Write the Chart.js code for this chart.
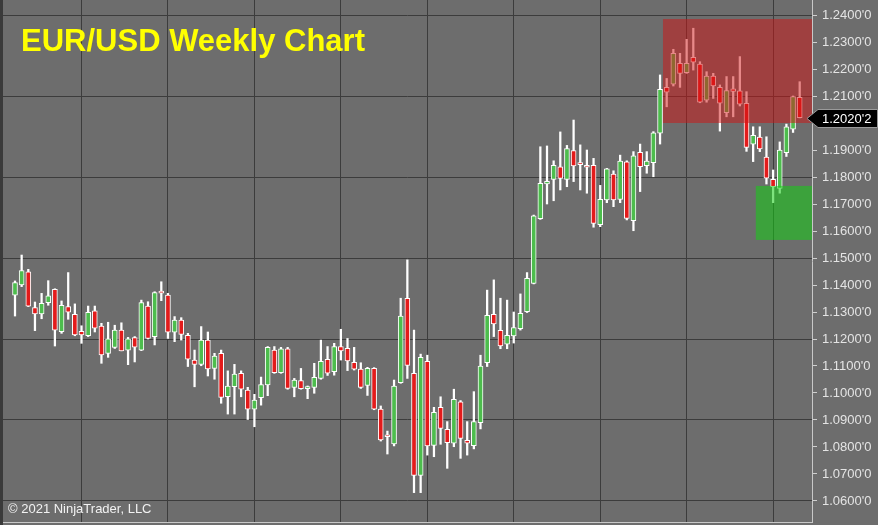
<!DOCTYPE html>
<html>
<head>
<meta charset="utf-8">
<script src="https://cdn.jsdelivr.net/npm/chart.js@4"></script>
<style>
  html, body { margin: 0; padding: 0; background: #6d6d6d; }
  #wrap { width: 878px; height: 525px; position: relative; }
</style>
</head>
<body>
<div id="wrap"><canvas id="c" width="878" height="525"></canvas></div>
<script>
// Weekly EUR/USD candles, week of 2019-01-21 .. week of 2021-04-26
const firstWeek = '2019-01-21';
const open = [
1.1362,1.1400,1.1449,1.1316,1.1293,1.1335,1.1384,1.1227,1.1320,1.1291,
1.1228,1.1212,1.1304,1.1248,1.1147,1.1169,1.1233,1.1159,1.1205,1.1159,
1.1322,1.1209,1.1372,1.1363,1.1225,1.1270,1.1214,1.1122,1.1106,1.1196,
1.1091,1.1147,1.0986,1.1023,1.1073,1.1011,1.0940,1.0983,1.1030,1.1159,
1.1075,1.1164,1.1021,1.1046,1.1016,1.1021,1.1054,1.1125,1.1079,1.1172,
1.1165,1.1114,1.1089,1.1028,1.1091,1.0940,1.0843,1.0811,1.1038,1.1351,
1.1073,1.0695,1.1117,1.0806,1.0947,1.0865,1.0814,1.0967,1.0825,1.0805,
1.0890,1.1112,1.1291,1.1232,1.1181,1.1211,1.1238,1.1301,1.1406,1.1646,
1.1774,1.1791,1.1838,1.1791,1.1898,1.1848,1.1838,1.1843,1.1623,1.1715,
1.1811,1.1717,1.1856,1.1638,1.1891,1.1842,1.1853,1.1962,1.2132,1.2144,
1.2221,1.2186,1.2243,1.2218,1.2085,1.2174,1.2132,1.2038,1.2127,1.2119,
1.2073,1.1922,1.1948,1.1874,1.1791,1.1758,1.1890,1.1977,1.2095];
const high = [
1.1415,1.1511,1.1458,1.1337,1.1369,1.1416,1.1386,1.1341,1.1446,1.1330,
1.1249,1.1322,1.1322,1.1258,1.1262,1.1251,1.1260,1.1206,1.1209,1.1344,
1.1338,1.1375,1.1412,1.1369,1.1283,1.1279,1.1221,1.1159,1.1246,1.1226,
1.1147,1.1159,1.1082,1.1106,1.1082,1.1021,1.0995,1.1059,1.1172,1.1172,
1.1169,1.1169,1.1054,1.1091,1.1026,1.1110,1.1196,1.1172,1.1184,1.1236,
1.1202,1.1169,1.1112,1.1095,1.1094,1.0952,1.0859,1.1048,1.1351,1.1493,
1.1233,1.1144,1.1140,1.0947,1.0986,1.0894,1.1014,1.0972,1.0894,1.1005,
1.1140,1.1381,1.1419,1.1351,1.1344,1.1300,1.1367,1.1446,1.1659,1.1912,
1.1915,1.1860,1.1967,1.1917,1.2011,1.1919,1.1900,1.1869,1.1769,1.1832,
1.1823,1.1881,1.1860,1.1894,1.1922,1.1894,1.1968,1.2178,1.2165,1.2273,
1.2258,1.2310,1.2351,1.2227,1.2190,1.2184,1.2141,1.2172,1.2172,1.2246,
1.2116,1.1986,1.1986,1.1949,1.1826,1.1930,1.1996,1.2100,1.2153];
const low = [
1.1285,1.1394,1.1320,1.1231,1.1275,1.1325,1.1174,1.1221,1.1273,1.1212,
1.1184,1.1209,1.1226,1.1110,1.1132,1.1165,1.1156,1.1105,1.1115,1.1157,
1.1200,1.1178,1.1342,1.1202,1.1190,1.1196,1.1098,1.1023,1.1101,1.1063,
1.1051,1.0962,1.0922,1.0922,1.0986,1.0902,1.0875,1.0955,1.0990,1.1073,
1.1073,1.1014,1.0986,1.1014,1.0979,1.0999,1.1051,1.1065,1.1066,1.1122,
1.1083,1.1085,1.1017,1.0991,1.0938,1.0822,1.0774,1.0804,1.1036,1.1054,
1.0631,1.0631,1.0770,1.0764,1.0810,1.0721,1.0801,1.0758,1.0770,1.0793,
1.0867,1.1098,1.1209,1.1164,1.1164,1.1185,1.1233,1.1298,1.1404,1.1643,
1.1700,1.1712,1.1752,1.1764,1.1783,1.1752,1.1740,1.1614,1.1616,1.1705,
1.1690,1.1705,1.1641,1.1601,1.1746,1.1814,1.1801,1.1922,1.2060,1.2137,
1.2132,1.2184,1.2196,1.2075,1.2077,1.2091,1.1970,1.2023,1.2023,1.2063,
1.1895,1.1857,1.1894,1.1774,1.1705,1.1740,1.1876,1.1965,1.2019];
const close = [
1.1409,1.1453,1.1322,1.1293,1.1332,1.1360,1.1233,1.1325,1.1299,1.1215,
1.1215,1.1299,1.1240,1.1141,1.1201,1.1233,1.1156,1.1201,1.1170,1.1335,
1.1202,1.1372,1.1370,1.1225,1.1270,1.1217,1.1125,1.1106,1.1196,1.1089,
1.1137,1.0984,1.1026,1.1070,1.1014,1.0940,1.0974,1.1031,1.1169,1.1075,
1.1164,1.1017,1.1048,1.1016,1.1017,1.1058,1.1117,1.1073,1.1172,1.1156,
1.1119,1.1088,1.1021,1.1091,1.0940,1.0826,1.0838,1.1026,1.1285,1.1102,
1.0695,1.1132,1.0804,1.0928,1.0869,1.0816,1.0977,1.0832,1.0814,1.0894,
1.1100,1.1288,1.1256,1.1174,1.1214,1.1242,1.1295,1.1425,1.1656,1.1777,
1.1784,1.1843,1.1795,1.1905,1.1841,1.1846,1.1836,1.1628,1.1717,1.1830,
1.1715,1.1859,1.1647,1.1878,1.1838,1.1859,1.1964,1.2125,1.2114,1.2258,
1.2184,1.2221,1.2225,1.2077,1.2174,1.2137,1.2073,1.2120,1.2117,1.2070,
1.1910,1.1954,1.1904,1.1796,1.1764,1.1900,1.1986,1.2098,1.20202];

// price-axis tick labels and quarterly grid weeks
const priceTicks = [1.06,1.07,1.08,1.09,1.10,1.11,1.12,1.13,1.14,1.15,1.16,1.17,1.18,1.19,1.20,1.21,1.22,1.23,1.24];
const quarterWeeks = [10,23,36,49,62,75,88,101,114];

// supply (red) and demand (green) zones: start week index, top price, bottom price
const zoneStart  = [97.44, 111.4];
const zoneTop    = [1.2385, 1.1767];
const zoneBottom = [1.2000, 1.1567];

const titleText = 'EUR/USD Weekly Chart';
const copyrightText = '\u00A9 2021 NinjaTrader, LLC';

// ---------- build ----------
const weeks = open.map((_, i) => {
  const d = new Date(firstWeek + 'T00:00:00Z');
  d.setUTCDate(d.getUTCDate() + 7 * i);
  return d.toISOString().slice(0, 10);
});
const RED = '#e31b1b', GREEN = '#4dbd4d';
const bodies = open.map((o, i) => ({x: i, y: [o, close[i]]}));
const wicks = open.map((o, i) => ({x: i, y: [low[i], high[i]]}));
const bodyColors = open.map((o, i) => close[i] >= o ? GREEN : RED);

const bgPlugin = {
  id: 'bg',
  beforeDraw(chart) {
    const c = chart.ctx;
    c.save();
    c.fillStyle = '#6d6d6d';
    c.fillRect(0, 0, chart.width, chart.height);
    c.fillStyle = '#3a3a3a';
    c.fillRect(0, 0, 3, chart.height);
    c.restore();
  }
};

const zonePlugin = {
  id: 'zones',
  afterDatasetsDraw(chart) {
    const c = chart.ctx, xs = chart.scales.x, ys = chart.scales.y, a = chart.chartArea;
    const fills = ['rgba(210,20,20,0.5)', 'rgba(20,205,20,0.55)'];
    c.save();
    zoneStart.forEach((s, k) => {
      const x0 = xs.getPixelForValue(s);
      const y0 = ys.getPixelForValue(zoneTop[k]);
      const y1 = ys.getPixelForValue(zoneBottom[k]);
      c.fillStyle = fills[k];
      c.fillRect(x0, y0, a.right - x0, y1 - y0);
    });
    c.restore();
  }
};

const textPlugin = {
  id: 'texts',
  afterDraw(chart) {
    const c = chart.ctx, ys = chart.scales.y, a = chart.chartArea;
    c.save();
    // title
    c.font = 'bold 31px "Liberation Sans", Arial, sans-serif';
    c.fillStyle = '#ffff00';
    c.textBaseline = 'alphabetic';
    c.textAlign = 'left';
    c.fillText(titleText, 21, 51);
    // copyright
    c.font = '13px "Liberation Sans", Arial, sans-serif';
    c.fillStyle = '#f2f2f2';
    c.fillText(copyrightText, 8, 513);
    // last price marker
    const last = close[close.length - 1];
    const y = Math.round(ys.getPixelForValue(last)) + 0.5;
    const xr = a.right;
    c.beginPath();
    c.moveTo(xr - 5, y);
    c.lineTo(xr + 6, y - 9);
    c.lineTo(877.5, y - 9);
    c.lineTo(877.5, y + 9);
    c.lineTo(xr + 6, y + 9);
    c.closePath();
    c.fillStyle = '#000000';
    c.fill();
    c.strokeStyle = '#9a9a9a';
    c.lineWidth = 1;
    c.stroke();
    const s = last.toFixed(5);
    const lbl = s.slice(0, -1) + "'" + s.slice(-1);
    c.font = '13px "Liberation Sans", Arial, sans-serif';
    c.fillStyle = '#ffffff';
    c.textBaseline = 'middle';
    c.fillText(lbl, xr + 10, y + 1);
    c.restore();
  }
};

new Chart(document.getElementById('c'), {
  type: 'bar',
  data: {
    labels: weeks,
    datasets: [
      {
        label: 'body',
        data: bodies,
        order: 1,
        grouped: false,
        barThickness: 5,
        minBarLength: 2,
        backgroundColor: bodyColors,
        borderColor: '#ffffff',
        borderWidth: 1,
        borderSkipped: false
      },
      {
        label: 'wick',
        data: wicks,
        order: 2,
        grouped: false,
        barThickness: 1.6,
        backgroundColor: '#ffffff',
        borderWidth: 0
      }
    ]
  },
  options: {
    responsive: false,
    animation: false,
    layout: { padding: { left: 3, right: 0, top: 0, bottom: 0 } },
    plugins: { legend: { display: false }, tooltip: { enabled: false } },
    scales: {
      x: {
        type: 'linear',
        offset: false,
        min: -1.805,
        max: 119.85,
        afterBuildTicks(scale) { scale.ticks = quarterWeeks.map(v => ({value: v})); },
        afterFit(scale) { scale.height = 3; scale.paddingLeft = 0; scale.paddingRight = 0; },
        ticks: { display: false },
        grid: { offset: false, color: '#3c3c3c', lineWidth: 1, drawTicks: false },
        border: { display: true, color: '#c8c8c8', width: 1 }
      },
      y: {
        type: 'linear',
        position: 'right',
        min: 1.052222,
        max: 1.245556,
        afterBuildTicks(scale) { scale.ticks = priceTicks.map(v => ({value: v})); },
        afterFit(scale) { scale.width = 66; scale.paddingTop = 0; scale.paddingBottom = 0; },
        ticks: {
          color: '#e4e4e4',
          padding: 5,
          font: { family: '"Liberation Sans", Arial, sans-serif', size: 13 },
          callback: (v) => Number(v).toFixed(4) + "'0"
        },
        grid: {
          color: (ctx) => {
            const k = Math.round((ctx.tick.value - 1.06) * 100);
            return (k % 3 === 0) ? '#3c3c3c' : 'rgba(0,0,0,0)';
          },
          tickColor: '#cfcfcf',
          tickLength: 5,
          lineWidth: 1
        },
        border: { display: true, color: '#c8c8c8', width: 1 }
      }
    }
  },
  plugins: [bgPlugin, zonePlugin, textPlugin]
});
</script>
</body>
</html>
